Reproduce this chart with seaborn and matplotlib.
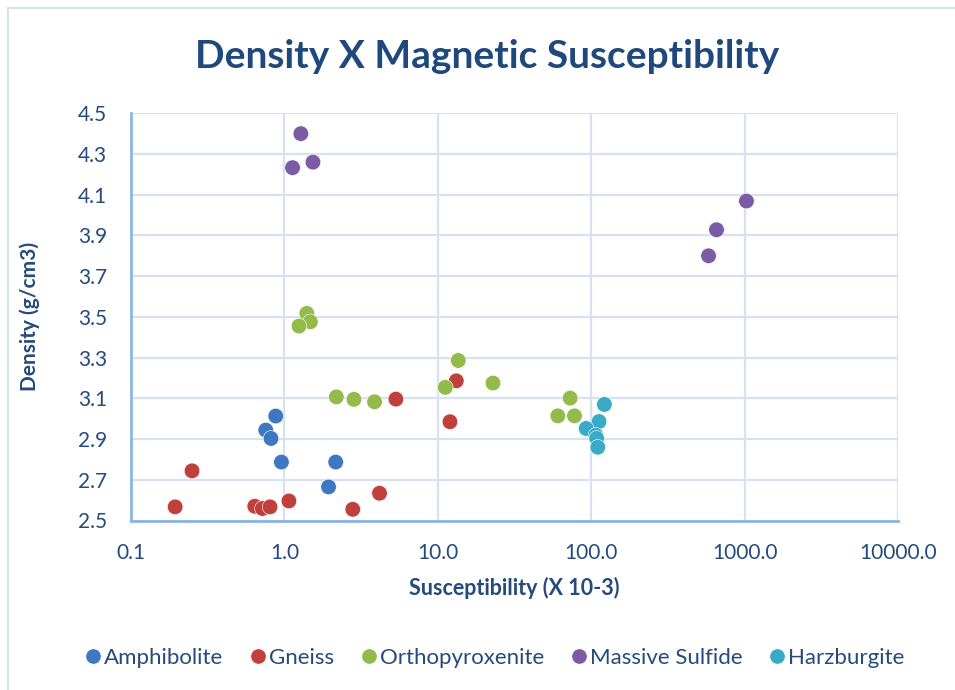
import matplotlib
matplotlib.use("Agg")
import matplotlib.pyplot as plt
from matplotlib.patches import Rectangle
from matplotlib.ticker import FixedLocator, FuncFormatter, NullLocator
import seaborn as sns
import pandas as pd

# ---- data ----
amph_x = [0.878, 0.756, 0.818, 0.956, 2.16, 1.94]
amph_y = [3.013, 2.944, 2.903, 2.787, 2.787, 2.665]

gneiss_x = [0.25, 0.194, 0.641, 0.719, 0.806, 1.07, 2.79, 4.17, 5.33, 13.2, 12.0]
gneiss_y = [2.744, 2.567, 2.570, 2.559, 2.567, 2.596, 2.555, 2.634, 3.096, 3.186, 2.985]

ortho_x = [1.40, 1.476, 1.245, 2.18, 2.84, 3.87, 13.6, 11.2, 22.9, 72.9, 60.6, 77.8]
ortho_y = [3.517, 3.476, 3.455, 3.107, 3.095, 3.083, 3.286, 3.154, 3.175, 3.101, 3.014, 3.014]

sulf_x = [1.28, 1.13, 1.535, 1028, 656, 582]
sulf_y = [4.40, 4.233, 4.26, 4.069, 3.928, 3.80]

harz_x = [121.9, 112.5, 92.7, 107.2, 108.6, 110.4]
harz_y = [3.070, 2.986, 2.952, 2.919, 2.903, 2.860]

series_names = ["Amphibolite", "Gneiss", "Orthopyroxenite", "Massive Sulfide", "Harzburgite"]
series_x = [amph_x, gneiss_x, ortho_x, sulf_x, harz_x]
series_y = [amph_y, gneiss_y, ortho_y, sulf_y, harz_y]
colors = ["#3F78C1", "#C0403C", "#93BA4B", "#7B5BA6", "#3AAAC8"]

x_ticks = [0.1, 1, 10, 100, 1000, 10000]
y_ticks = [2.5, 2.7, 2.9, 3.1, 3.3, 3.5, 3.7, 3.9, 4.1, 4.3, 4.5]

title = "Density X Magnetic Susceptibility"
xlabel = "Susceptibility (X 10-3)"
ylabel = "Density (g/cm3)"

rows = []
for n, xs, ys in zip(series_names, series_x, series_y):
    for a, b in zip(xs, ys):
        rows.append({"x": a, "y": b, "rock": n})
df = pd.DataFrame(rows)

# ---- figure ----
sns.set_theme(style="white")
plt.rcParams["font.family"] = ["Lato", "DejaVu Sans"]

W, H = 955, 690
fig = plt.figure(figsize=(W / 100, H / 100), dpi=100)
L, R, T, B = 131, 898, 113.3, 520.5
ax = fig.add_axes([L / W, 1 - B / H, (R - L) / W, (B - T) / H])

txt_color = "#254A7C"
grid_color = "#D6E2F1"
axis_color = "#8DB4E2"

sns.scatterplot(data=df, x="x", y="y", hue="rock", hue_order=series_names,
                palette=colors, s=125, edgecolor="white", linewidth=0.4,
                ax=ax, legend=False, zorder=3)

ax.set_xscale("log")
ax.set_xlim(0.1, 10000)
ax.set_ylim(2.5, 4.5)
ax.xaxis.set_major_locator(FixedLocator(x_ticks))
ax.xaxis.set_minor_locator(NullLocator())
ax.xaxis.set_major_formatter(FuncFormatter(lambda v, p: f"{v:.1f}"))
ax.yaxis.set_major_locator(FixedLocator(y_ticks))
ax.yaxis.set_major_formatter(FuncFormatter(lambda v, p: f"{v:.1f}"))

ax.grid(True, color=grid_color, linewidth=1.6, zorder=0)
ax.set_axisbelow(True)
for s in ["top", "right"]:
    ax.spines[s].set_visible(False)
for s in ["left", "bottom"]:
    ax.spines[s].set_color(axis_color)
    ax.spines[s].set_linewidth(2)
ax.tick_params(axis="both", length=0, labelsize=15, labelcolor=txt_color)
ax.tick_params(axis="y", pad=17)
ax.tick_params(axis="x", pad=16)

ax.set_xlabel(xlabel, fontsize=15.5, fontweight="bold", color=txt_color)
ax.set_ylabel(ylabel, fontsize=15, fontweight="bold", color=txt_color)
ax.xaxis.set_label_coords((514 - L) / (R - L), -(588 - B) / (B - T))
ax.yaxis.set_label_coords(-(L - 30) / (R - L), 0.5)
for lab in (ax.xaxis.label, ax.yaxis.label):
    lab.set_verticalalignment("center")

fig.text(487 / W, 1 - 57 / H, title, ha="center", va="center",
         fontsize=28, fontweight="bold", color="#1F497D")

# legend
handles = [plt.Line2D([0], [0], marker="o", linestyle="none", markersize=11,
                      markerfacecolor=c, markeredgecolor="white", markeredgewidth=0.4)
           for c in colors]
fig.legend(handles, series_names, loc="center", bbox_to_anchor=(0.517, 1 - 658 / H),
           ncol=5, frameon=False, fontsize=16, labelcolor=txt_color,
           handletextpad=0.05, columnspacing=1.1, handlelength=0.9)

# chart border (top/left visible)
fig.patches.append(Rectangle((8 / W, -0.1), 1.2, 1 - 8 / H + 0.1, transform=fig.transFigure,
                             fill=False, edgecolor="#D6E2F1", linewidth=1.5))

fig.savefig("out.png", dpi=100)
